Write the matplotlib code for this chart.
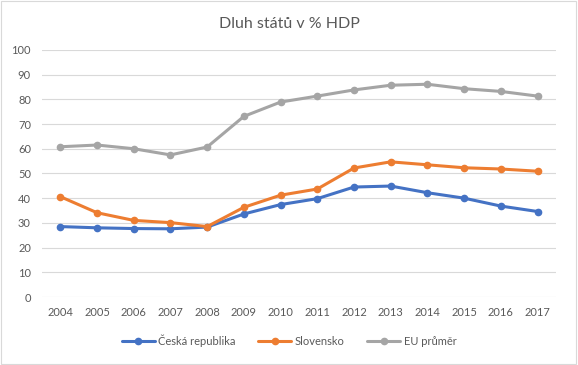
import matplotlib
matplotlib.use("Agg")
import matplotlib.pyplot as plt
from matplotlib.patches import Rectangle

matplotlib.rcParams["font.family"] = ["Lato", "DejaVu Sans"]

years = ["2004", "2005", "2006", "2007", "2008", "2009", "2010",
         "2011", "2012", "2013", "2014", "2015", "2016", "2017"]
cesko = [28.5, 28.0, 27.7, 27.6, 28.3, 33.6, 37.4, 39.8, 44.5, 44.9, 42.2, 40.0, 36.8, 34.6]
slovensko = [40.6, 34.1, 31.0, 30.1, 28.5, 36.3, 41.2, 43.7, 52.2, 54.7, 53.5, 52.3, 51.8, 50.9]
eu = [60.8, 61.5, 60.0, 57.5, 60.7, 73.1, 78.9, 81.3, 83.8, 85.7, 86.1, 84.3, 83.2, 81.3]

series = [
    ("Česká republika", cesko, "#4472C4"),
    ("Slovensko", slovensko, "#ED7D31"),
    ("EU průměr", eu, "#A5A5A5"),
]

text_color = "#595959"
grid_color = "#D9D9D9"

fig = plt.figure(figsize=(5.78, 3.65), dpi=100)
fig.patch.set_facecolor("white")
fig.patches.append(Rectangle((0.002, 0.003), 0.995, 0.993, transform=fig.transFigure,
                             fill=False, edgecolor=grid_color, linewidth=0.8))

ax = fig.add_axes([0.0727, 0.1863, 0.889, 0.677])
x = list(range(len(years)))
for name, vals, col in series:
    ax.plot(x, vals, color=col, linewidth=2.2, marker="o", markersize=4.5,
            label=name, zorder=3, solid_capstyle="round")

ax.set_xlim(-0.5, len(years) - 0.5)
ax.set_ylim(0, 100)
ax.set_yticks(range(0, 101, 10))
ax.set_xticks(x)
ax.set_xticklabels(years)
ax.grid(True, axis="y", color=grid_color, linewidth=0.8, zorder=0)
for s in ax.spines.values():
    s.set_visible(False)
ax.tick_params(axis="both", length=0, colors=text_color, labelsize=8)
ax.tick_params(axis="x", pad=7)
ax.tick_params(axis="y", pad=8)

fig.text(0.5, 0.935, "Dluh států v % HDP", ha="center", va="center",
         fontsize=11.5, color=text_color)

ax.legend(loc="center", bbox_to_anchor=(0.5, 0.066), bbox_transform=fig.transFigure,
          ncol=3, frameon=False, fontsize=8, labelcolor=text_color,
          handlelength=3, columnspacing=2.0, handletextpad=0.3)

fig.savefig("out.png", dpi=100)
